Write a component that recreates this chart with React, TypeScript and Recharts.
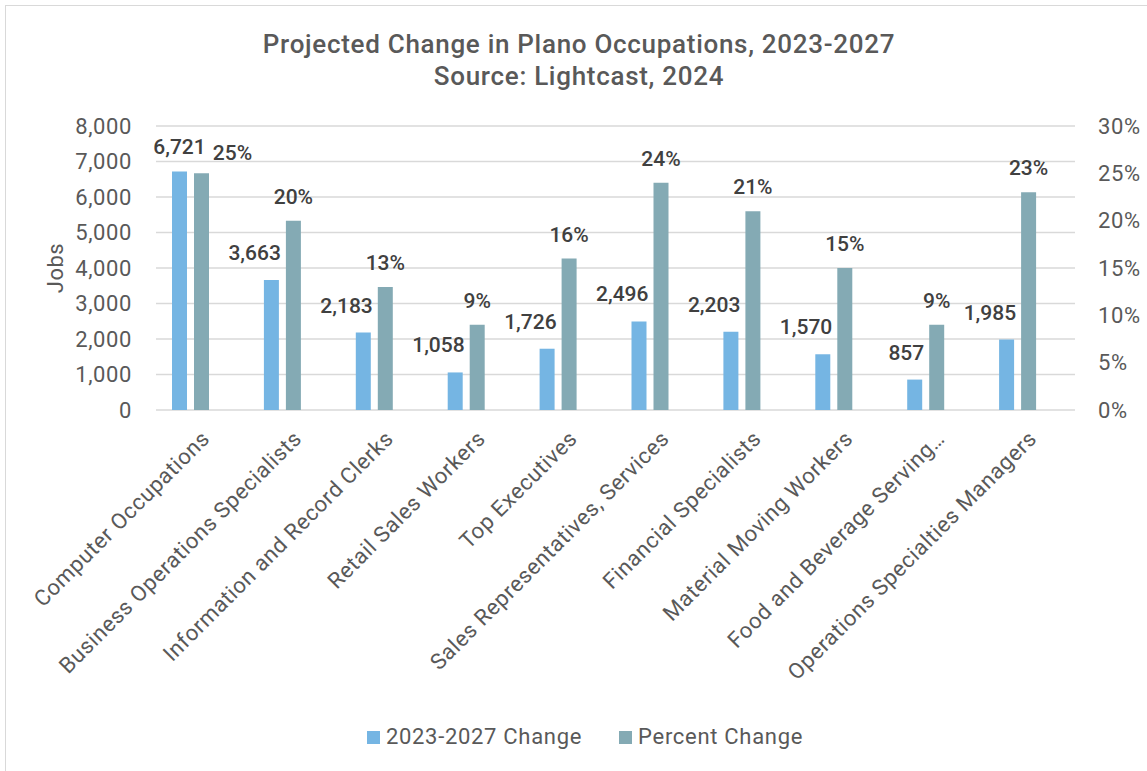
import React from 'react';
import { BarChart, Bar, XAxis, YAxis, CartesianGrid, LabelList, Label } from 'recharts';

// Plano occupations, projected change 2023-2027 (Lightcast, 2024)
const categories = [
  'Computer Occupations',
  'Business Operations Specialists',
  'Information and Record Clerks',
  'Retail Sales Workers',
  'Top Executives',
  'Sales Representatives, Services',
  'Financial Specialists',
  'Material Moving Workers',
  'Food and Beverage Serving…',
  'Operations Specialties Managers',
];
const jobChange = [6721, 3663, 2183, 1058, 1726, 2496, 2203, 1570, 857, 1985];
const percentChange = [25, 20, 13, 9, 16, 24, 21, 15, 9, 23];
const jobTicks = [0, 1000, 2000, 3000, 4000, 5000, 6000, 7000, 8000];
const percentTicks = [0, 5, 10, 15, 20, 25, 30];

const seriesNames = ['2023-2027 Change', 'Percent Change'];
const BLUE = '#75B5E3';
const TEAL = '#84AAB4';
const FONT = 'Roboto, "DejaVu Sans", sans-serif';

const chartData = categories.map((name, i) => ({
  name,
  jobs: jobChange[i],
  pct: percentChange[i],
}));

const CategoryTick = (props: any) => {
  const { x, y, payload } = props;
  return (
    <g transform={`translate(${x + 9},${y + 30}) rotate(-45)`}>
      <text
        x={0}
        y={0}
        textAnchor="end"
        fill="#595959"
        fontSize={22}
        letterSpacing={0.6}
        fontFamily={FONT}
      >
        {payload.value}
      </text>
    </g>
  );
};

// the first pair is crowded, so its labels sit a little differently
const JobsValueLabel = (props: any) => {
  const { x, y, width, value, index } = props;
  const first = index === 0;
  return (
    <text
      x={first ? x + width / 2 : x + width + 2}
      y={y - (first ? 24 : 27)}
      textAnchor={first ? 'middle' : 'end'}
      dominantBaseline="central"
      fill="#404040"
      fontSize={21}
      fontWeight={500}
      fontFamily={FONT}
    >
      {Number(value).toLocaleString('en-US')}
    </text>
  );
};

const PercentValueLabel = (props: any) => {
  const { x, y, width, value, index } = props;
  const first = index === 0;
  return (
    <text
      x={x + width / 2 + (first ? 31 : 0)}
      y={y - (first ? 20 : 24)}
      textAnchor="middle"
      dominantBaseline="central"
      fill="#404040"
      fontSize={21}
      fontWeight={500}
      fontFamily={FONT}
    >
      {`${value}%`}
    </text>
  );
};

const JobsAxisTitle = (props: any) => {
  const { viewBox } = props;
  const cx = viewBox.x + 45;
  const cy = viewBox.y + viewBox.height / 2;
  return (
    <text
      x={cx}
      y={cy}
      transform={`rotate(-90 ${cx} ${cy})`}
      textAnchor="middle"
      dominantBaseline="central"
      fill="#595959"
      fontSize={22}
      letterSpacing={0.5}
      fontFamily={FONT}
    >
      Jobs
    </text>
  );
};

const tickStyle = { fill: '#595959', fontSize: 22, fontFamily: FONT, letterSpacing: 0.6 };

export default function App() {
  return (
    <div
      style={{
        position: 'fixed',
        left: 0,
        top: 0,
        width: 1147,
        height: 771,
        overflow: 'hidden',
        background: '#fff',
        fontFamily: FONT,
      }}
    >
      <div
        style={{
          position: 'absolute',
          left: 5,
          top: 5,
          width: 1148,
          height: 800,
          border: '1px solid #D9D9D9',
          boxSizing: 'border-box',
        }}
      />
      <div
        style={{
          position: 'absolute',
          left: 5,
          top: 28,
          width: 1148,
          textAlign: 'center',
          color: '#595959',
          fontSize: 26,
          fontWeight: 500,
          letterSpacing: 0.7,
          lineHeight: '32px',
        }}
      >
        <div>Projected Change in Plano Occupations, 2023-2027</div>
        <div>Source: Lightcast, 2024</div>
      </div>
      <div style={{ position: 'absolute', left: 0, top: 0 }}>
        <BarChart
          width={1147}
          height={771}
          data={chartData}
          margin={{ top: 126, right: 0, bottom: 61, left: 10 }}
          barSize={15}
          barGap={7}
        >
          <CartesianGrid vertical={false} yAxisId="left" stroke="#D9D9D9" strokeWidth={1.5} />
          <XAxis
            dataKey="name"
            interval={0}
            height={300}
            axisLine={false}
            tickLine={false}
            tickSize={0}
            tickMargin={0}
            tick={<CategoryTick />}
          />
          <YAxis
            yAxisId="left"
            width={146}
            domain={[0, 8000]}
            ticks={jobTicks}
            axisLine={false}
            tickLine={false}
            tickSize={0}
            tickMargin={24}
            tick={tickStyle}
            tickFormatter={(v: number) => v.toLocaleString('en-US')}
          >
            <Label content={<JobsAxisTitle />} />
          </YAxis>
          <YAxis
            yAxisId="right"
            orientation="right"
            width={72}
            domain={[0, 30]}
            ticks={percentTicks}
            axisLine={false}
            tickLine={false}
            tickSize={0}
            tickMargin={23}
            tick={{ ...tickStyle, textAnchor: 'start' }}
            tickFormatter={(v: number) => `${v}%`}
          />
          <Bar dataKey="jobs" yAxisId="left" fill={BLUE} isAnimationActive={false}>
            <LabelList dataKey="jobs" content={<JobsValueLabel />} />
          </Bar>
          <Bar dataKey="pct" yAxisId="right" fill={TEAL} isAnimationActive={false}>
            <LabelList dataKey="pct" content={<PercentValueLabel />} />
          </Bar>
          {/* empty third slot keeps each pair toward the left of its category */}
          <Bar dataKey="slot" yAxisId="left" fill="none" legendType="none" isAnimationActive={false} />
        </BarChart>
      </div>
      <div
        style={{
          position: 'absolute',
          left: 5,
          top: 722,
          width: 1160,
          display: 'flex',
          justifyContent: 'center',
          gap: 37,
          color: '#595959',
          fontSize: 22,
          letterSpacing: 0.7,
          lineHeight: '30px',
        }}
      >
        {seriesNames.map((s, i) => (
          <div key={s} style={{ display: 'flex', alignItems: 'center', gap: 6 }}>
            <span style={{ width: 13, height: 13, background: i === 0 ? BLUE : TEAL, display: 'inline-block' }} />
            <span>{s}</span>
          </div>
        ))}
      </div>
    </div>
  );
}
